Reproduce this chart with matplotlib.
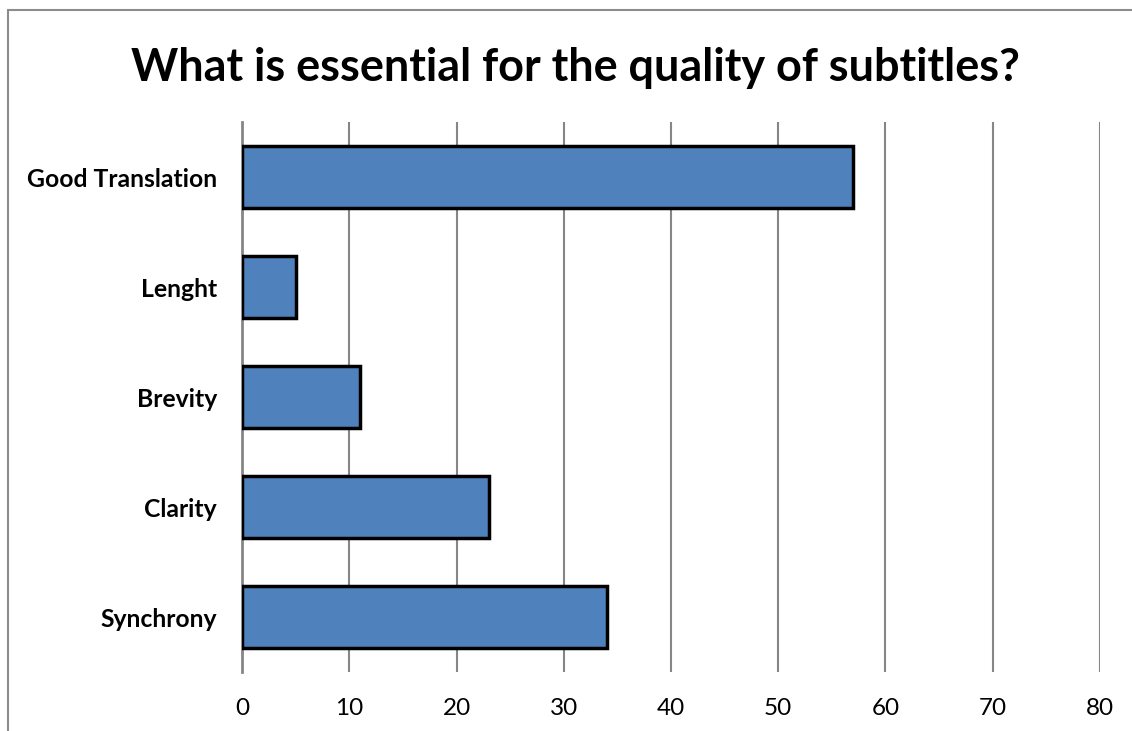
import matplotlib
matplotlib.use("Agg")
import matplotlib.pyplot as plt
from matplotlib.patches import Rectangle

categories = ["Good Translation", "Lenght", "Brevity", "Clarity", "Synchrony"]
values = [57, 5, 11, 23, 34]
xticks = [0, 10, 20, 30, 40, 50, 60, 70, 80]

plt.rcParams['font.family'] = ['Lato', 'DejaVu Sans']

fig = plt.figure(figsize=(11.32, 7.31), dpi=100)
ax = fig.add_axes([0.2138, 0.0807, 0.7579, 0.7524])

# chart border (right and bottom are cut off in the original)
fig.patches.append(Rectangle((8 / 1132, -0.1), 1.2, 1 - 10 / 731 + 0.1,
                             transform=fig.transFigure, fill=False,
                             edgecolor="#8c8c8c", linewidth=1.5))

ypos = list(range(len(categories)))
ax.barh(ypos, values, height=0.571, color="#4F81BD", edgecolor="black",
        linewidth=2.5, zorder=3)

ax.set_xlim(0, 80)
ax.set_ylim(len(categories) - 0.5, -0.5)
ax.set_xticks(xticks)
ax.set_yticks(ypos)
ax.set_yticklabels(categories, fontsize=17.8, fontweight="bold")
ax.tick_params(axis="x", length=0, labelsize=17.5, pad=19)
ax.tick_params(axis="y", length=0, pad=18)

ax.grid(axis="x", color="#868686", linewidth=1.5, zorder=0)
for s in ["top", "right", "bottom"]:
    ax.spines[s].set_visible(False)
ax.spines["left"].set_color("#868686")
ax.spines["left"].set_linewidth(2)

fig.text(0.508, 0.907, "What is essential for the quality of subtitles?",
         ha="center", va="center", fontsize=32.4, fontweight="bold")

fig.savefig("out.png", dpi=100)
